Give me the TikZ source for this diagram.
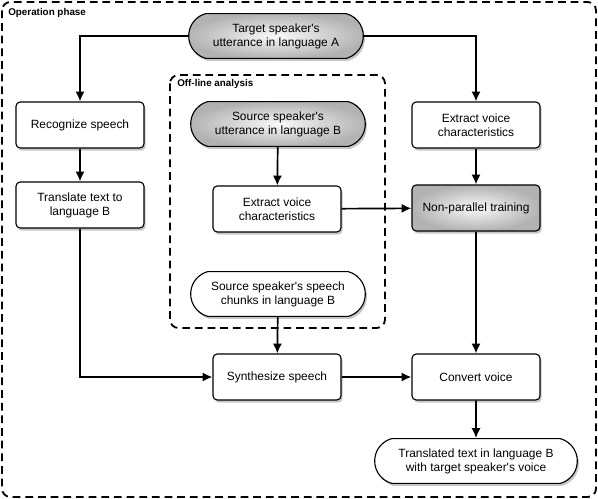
\documentclass[tikz,border=0pt]{standalone}
\usepackage{fontspec}
\setmainfont{Liberation Sans}
\usepackage{tikz}
\usetikzlibrary{positioning, arrows.meta, shapes.misc, shadows}
\newcommand{\apos}{\textquotesingle}

\begin{document}
\begin{tikzpicture}[x=0.025cm, y=-0.025cm,
    every node/.style={align=center, font=\fontsize{8.5}{10}\selectfont},
    stepbox/.style={draw, line width=0.8pt, rounded corners=3pt, fill=white, minimum width=3.2cm, minimum height=1.15cm,
      drop shadow={shadow xshift=1.2pt, shadow yshift=-1.8pt, opacity=0.45}},
    talk/.style={draw, line width=0.8pt, rounded rectangle, rounded rectangle arc length=150, fill=white,
      minimum width=4.6cm, minimum height=1.12cm,
      drop shadow={shadow xshift=1.2pt, shadow yshift=-1.8pt, opacity=0.45}},
    greyed/.style={shading=radial, inner color=gray!5, outer color=gray!60},
    frame/.style={line width=1.3pt, dash pattern=on 5.5pt off 3.5pt, rounded corners=6pt},
    flow/.style={-{Latex[length=7pt, width=6.5pt]}, line width=1.2pt},
    tag/.style={anchor=north west, inner sep=0pt, font=\fontsize{7}{8}\selectfont\bfseries}]
    \useasboundingbox (0,0) rectangle (598,499);

    \draw[frame] (2,2) rectangle (596,497);
    \node[tag] (optag) at (8,8) {Operation phase};
    \draw[frame] (170,75) rectangle (385,328);
    \node[tag] (offtag) at (177,79) {Off-line analysis};

    \node[talk, greyed] (target) at (276,36) {Target speaker\apos s\\utterance in language A};
    \node[stepbox] (recog) at (80,125) {Recognize speech};
    \node[stepbox] (transl) at (80,205) {Translate text to\\language B};
    \node[talk, greyed] (source) at (278,124) {Source speaker\apos s\\utterance in language B};
    \node[stepbox] (extmid) at (277,209) {Extract voice\\characteristics};
    \node[talk] (chunks) at (278,294) {Source speaker\apos s speech\\chunks in language B};
    \node[stepbox] (extright) at (476,125) {Extract voice\\characteristics};
    \node[stepbox, greyed] (train) at (476,208) {Non-parallel training};
    \node[stepbox] (synth) at (277,377) {Synthesize speech};
    \node[stepbox] (conv) at (476,377) {Convert voice};
    \node[talk, minimum width=5.3cm] (result) at (476,461) {Translated text in language B\\with target speaker\apos s voice};

    \draw[flow] (target.west) -| (recog.north);
    \draw[flow] (target.east) -| (extright.north);
    \draw[flow] (recog) -- (transl);
    \draw[flow] (transl.south) |- (synth.west);
    \draw[flow] (source) -- (extmid);
    \draw[flow] (extmid) -- (train);
    \draw[flow] (extright) -- (train);
    \draw[flow] (chunks) -- (synth);
    \draw[flow] (train) -- (conv);
    \draw[flow] (synth) -- (conv);
    \draw[flow] (conv) -- (result);
  \end{tikzpicture}
\end{document}
